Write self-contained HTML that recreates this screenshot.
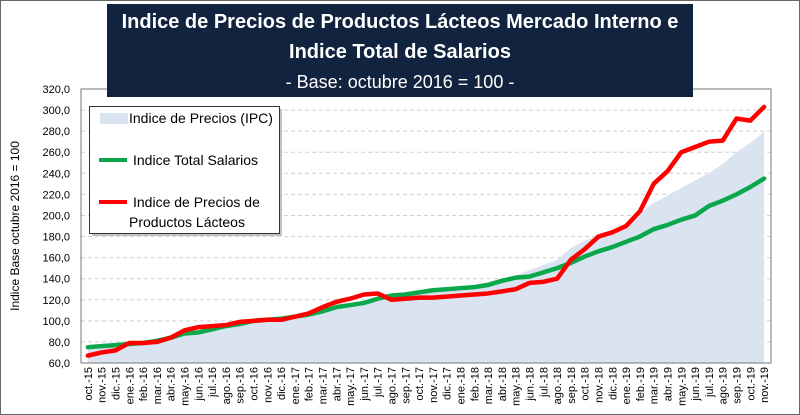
<!DOCTYPE html>
<html><head><meta charset="utf-8"><style>
html,body{margin:0;padding:0;background:#fff}
#wrap{position:relative;width:800px;height:415px;overflow:hidden;font-family:"Liberation Sans",sans-serif}
</style></head><body>
<div id="wrap">
<svg id="svg" width="800" height="415" xmlns="http://www.w3.org/2000/svg">
<rect x="0.5" y="0.5" width="799" height="414" fill="#fff" stroke="#666"/>
<g id="plot"></g>
<rect x="107" y="4" width="586" height="93" fill="#12233f"/>
<text x="400" y="28" text-anchor="middle" fill="#fff" font-size="20" font-weight="bold">Indice de Precios de Productos Lácteos Mercado Interno e</text>
<text x="400" y="58" text-anchor="middle" fill="#fff" font-size="20" font-weight="bold">Indice Total de Salarios</text>
<text x="400" y="88" text-anchor="middle" fill="#fff" font-size="18">- Base: octubre 2016 = 100 -</text>
<text transform="translate(19,226) rotate(-90)" text-anchor="middle" font-size="12" fill="#000">Indice Base octubre 2016 = 100</text>
<g>
<rect x="92" y="109" width="190" height="127" fill="#999" opacity="0.6"/>
<rect x="89.5" y="106.5" width="190" height="127" fill="#fff" stroke="#333"/>
<rect x="100" y="113" width="28" height="11" fill="#dae3f0"/>
<text x="129" y="123" font-size="14" fill="#000">Indice de Precios (IPC)</text>
<line x1="99" y1="160" x2="127" y2="160" stroke="#0aa84a" stroke-width="4"/>
<text x="133" y="165" font-size="14" fill="#000">Indice Total Salarios</text>
<line x1="99" y1="202" x2="127" y2="202" stroke="#f00" stroke-width="4"/>
<text x="133" y="207" font-size="14" fill="#000">Indice de Precios de</text>
<text x="129" y="227" font-size="14" fill="#000">Productos Lácteos</text>
</g>
</svg>
</div>
<script>
const categories=["oct.-15","nov.-15","dic.-15","ene.-16","feb.-16","mar.-16","abr.-16","may.-16","jun.-16","jul.-16","ago.-16","sep.-16","oct.-16","nov.-16","dic.-16","ene.-17","feb.-17","mar.-17","abr.-17","may.-17","jun.-17","jul.-17","ago.-17","sep.-17","oct.-17","nov.-17","dic.-17","ene.-18","feb.-18","mar.-18","abr.-18","may.-18","jun.-18","jul.-18","ago.-18","sep.-18","oct.-18","nov.-18","dic.-18","ene.-19","feb.-19","mar.-19","abr.-19","may.-19","jun.-19","jul.-19","ago.-19","sep.-19","oct.-19","nov.-19"];
const ipc=[74,75,77,79,80,82,85,88,90,92,95,97,100,101,103,105,107,110,113,115,117,120,122,124,126,128,130,132,134,137,140,143,148,153,158,169,176,181,186,193,202,212,219,226,233,240,249,260,269,279];
const salarios=[75,76,77,78,79,81,84,88,89,92,95,97,100,101,102,104,106,109,113,115,117,121,124,125,127,129,130,131,132,134,138,141,142,146,150,155,161,166,170,175,180,187,191,196,200,209,214,220,227,235];
const lacteos=[67,70,72,79,79,80,84,91,94,95,96,99,100,101,101,104,107,113,118,121,125,126,120,121,122,122,123,124,125,126,128,130,136,137,140,158,168,180,184,190,204,230,242,260,265,270,271,292,290,303];
const yTicks=[60,80,100,120,140,160,180,200,220,240,260,280,300,320];
const yTickLabels=["60,0","80,0","100,0","120,0","140,0","160,0","180,0","200,0","220,0","240,0","260,0","280,0","300,0","320,0"];
const L=81,R=771,T=89,B=363,ymin=60,ymax=320;
const step=(R-L)/categories.length;
const xs=i=>L+step*(i+0.5);
const ys=v=>B-(v-ymin)/(ymax-ymin)*(B-T);
const NS="http://www.w3.org/2000/svg";
const plot=document.getElementById('plot');
function mk(tag,attrs){const e=document.createElementNS(NS,tag);for(const k in attrs)e.setAttribute(k,attrs[k]);plot.appendChild(e);return e;}
yTicks.forEach((v,i)=>{
  if(v>ymin&&v<ymax){const g=mk('line',{x1:L,x2:R,y1:ys(v),y2:ys(v),stroke:'#d0d0d0','stroke-dasharray':'4,3'});
  
  }
  const t=mk('text',{x:L-11,y:ys(v)+4,'text-anchor':'end','font-size':'11',fill:'#000'});
  t.textContent=yTickLabels[i];
  
  
});
let d='M'+xs(0)+','+B;
ipc.forEach((v,i)=>{d+=' L'+xs(i)+','+ys(v);});
d+=' L'+xs(ipc.length-1)+','+B+' Z';
const a=mk('path',{d:d,fill:'#dae3f0'});


function line(arr,color,name){
  const p=mk('polyline',{points:arr.map((v,i)=>xs(i)+','+ys(v)).join(' '),fill:'none',stroke:color,'stroke-width':'4.5','stroke-linejoin':'round','stroke-linecap':'round'});
  
  
}
line(salarios,'#0aa84a','salarios-line');
line(lacteos,'#f00','lacteos-line');
const ax=mk('path',{d:`M${L},${B} L${L},${T} L${R},${T} L${R},${B} L${L},${B}`,fill:'none',stroke:'#777','stroke-width':'1'});


categories.forEach((c,i)=>{
  const t=mk('text',{transform:`translate(${xs(i)+4},367) rotate(-90)`,'text-anchor':'end','font-size':'11',fill:'#000'});
  t.textContent=c;
  
  
});
</script>
</body></html>
